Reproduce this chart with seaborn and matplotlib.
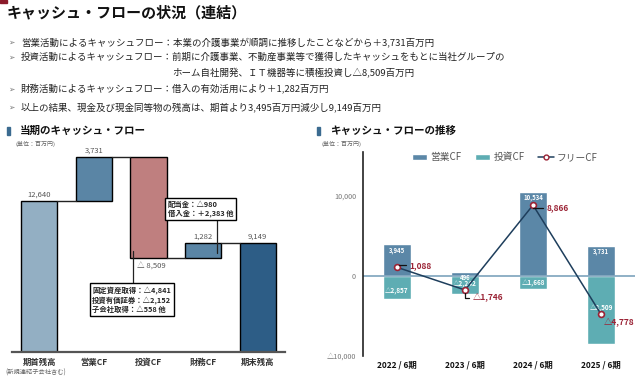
import matplotlib
matplotlib.use('Agg')
import matplotlib.pyplot as plt
import seaborn as sns
import pandas as pd
from matplotlib.patches import Rectangle, Patch
from matplotlib.lines import Line2D

# ---------------- data ----------------
wf_categories = ['期首残高', '営業CF', '投資CF', '財務CF', '期末残高']
wf_values = [12640, 3731, -8509, 1282, 9149]
wf_labels = ['12,640', '3,731', '△ 8,509', '1,282', '9,149']

years = ['2022 / 6期', '2023 / 6期', '2024 / 6期', '2025 / 6期']
operating_cf = [3945, 496, 10534, 3731]
investing_cf = [-2857, -2242, -1668, -8509]
free_cf = [1088, -1746, 8866, -4778]

y_ticks = [-10000, 0, 10000]
y_ticklabels = ['△10,000', '0', '10,000']

bullets = [
    '営業活動によるキャッシュフロー：本業の介護事業が順調に推移したことなどから＋3,731百万円',
    '投資活動によるキャッシュフロー：前期に介護事業、不動産事業等で獲得したキャッシュをもとに当社グループの',
    '財務活動によるキャッシュフロー：借入の有効活用により＋1,282百万円',
    '以上の結果、現金及び現金同等物の残高は、期首より3,495百万円減少し9,149百万円',
]
bullet_cont = 'ホーム自社開発、ＩＴ機器等に積極投資し△8,509百万円'
box_fin = '配当金：△980\n借入金：＋2,383 他'
box_inv = '固定資産取得：△4,841\n投資有価証券：△2,152\n子会社取得：△558 他'

# ---------------- style ----------------
sns.set_style('white')
plt.rcParams['font.family'] = ['Noto Sans CJK JP', 'DejaVu Sans']

W, H = 635, 376
fig = plt.figure(figsize=(W / 100, H / 100), dpi=100)

def fx(px):
    return px / W

def fy(py):
    return 1 - py / H

def ftext(px, py, s, **kw):
    fig.text(fx(px), fy(py), s, **kw)

def fmt(v):
    return ('△' if v < 0 else '') + f'{abs(v):,}'

# top-left red mark
fig.patches.append(Rectangle((0, fy(3)), fx(7), 3 / H, transform=fig.transFigure,
                             color='#8B1A2B', zorder=5))

# title
ftext(7, 12, 'キャッシュ・フローの状況（連結）', fontsize=10.8, fontweight='bold',
      color='#111111', va='center', ha='left')

# bullets
bullet_y = [42, 57, 89, 107]
for y, s in zip(bullet_y, bullets):
    ftext(8, y, '➢', fontsize=5.5, color='#777777', va='center', ha='left',
          family=['DejaVu Sans'])
    ftext(21, y, s, fontsize=6.8, color='#222222', va='center', ha='left')
ftext(172, 73, bullet_cont, fontsize=6.8, color='#222222', va='center', ha='left')

# section headers
for px, title in [(7, '当期のキャッシュ・フロー'), (317, 'キャッシュ・フローの推移')]:
    fig.patches.append(Rectangle((fx(px), fy(135)), 3 / W, 8 / H,
                                 transform=fig.transFigure, color='#3B6B90'))
    ftext(px + 13, 131, title, fontsize=7.6, fontweight='bold', color='#111111',
          va='center', ha='left')
ftext(15, 144, '(単位：百万円)', fontsize=4.3, color='#666666', va='center')
ftext(322, 144, '(単位：百万円)', fontsize=4.3, color='#666666', va='center')
ftext(5, 373, '(新規連結子会社含む)', fontsize=4.5, color='#666666', va='center')

# ---------------- left: waterfall ----------------
ax1 = fig.add_axes([fx(12), fy(352), 273 / W, 203 / H])
bw = 0.66
lows, highs, levels = [], [], []
cum = 0
for i, v in enumerate(wf_values):
    if i == 0 or i == len(wf_values) - 1:
        lo, hi = 0, v
        cum = v
    else:
        lo, hi = min(cum, cum + v), max(cum, cum + v)
        cum = cum + v
    lows.append(lo)
    highs.append(hi)
    levels.append(cum)

wf_colors = ['#93AFC3', '#5A85A5', '#BF7F7F', '#5A85A5', '#2D5D86']
df_wf = pd.DataFrame({'cat': wf_categories, 'top': highs})
sns.barplot(data=df_wf, x='cat', y='top', hue='cat', palette=wf_colors,
            width=bw, saturation=1, edgecolor='black', linewidth=1.0,
            legend=False, ax=ax1)
bars = [p for p in ax1.patches if isinstance(p, Rectangle)]
for p, lo, hi in zip(bars, lows, highs):
    p.set_y(lo)
    p.set_height(hi - lo)

for i in range(len(wf_values) - 1):
    ax1.plot([i + bw / 2, i + 1 - bw / 2], [levels[i], levels[i]],
             color='#222222', lw=1.0, zorder=1)

for i, (lab, lo, hi) in enumerate(zip(wf_labels, lows, highs)):
    if wf_values[i] < 0:
        ax1.annotate(lab, (i, lo), xytext=(2, -3), textcoords='offset points',
                     ha='center', va='top', fontsize=5.5, color='#555555')
    else:
        ax1.annotate(lab, (i, hi), xytext=(0, 1.5), textcoords='offset points',
                     ha='center', va='bottom', fontsize=5.5, color='#555555')

# annotation boxes
ax1.plot([3.25, 3.25], [8300, 11300], color='#222222', lw=0.9, zorder=3)
ax1.text(2.35, 12000, box_fin, fontsize=5.3, fontweight='bold', ha='left',
         va='center', linespacing=1.35, zorder=4,
         bbox=dict(boxstyle='square,pad=0.35', fc='white', ec='black', lw=1.0))
ax1.plot([1.72, 1.72], [5700, 8450], color='#222222', lw=0.9, zorder=3)
ax1.text(0.97, 4400, box_inv, fontsize=5.3, fontweight='bold', ha='left',
         va='center', linespacing=1.3, zorder=4,
         bbox=dict(boxstyle='square,pad=0.35', fc='white', ec='black', lw=1.0))

ax1.set_xlim(-0.5, len(wf_values) - 0.5)
ax1.set_ylim(0, 17000)
ax1.set_xlabel('')
ax1.set_ylabel('')
ax1.set_yticks([])
ax1.tick_params(axis='x', length=0, pad=4, labelsize=6, labelcolor='#333333')
for t in ax1.get_xticklabels():
    t.set_fontweight('bold')
for s in ['top', 'left', 'right']:
    ax1.spines[s].set_visible(False)
ax1.spines['bottom'].set_color('#555555')
ax1.spines['bottom'].set_linewidth(1.6)
ax1.patch.set_alpha(0)

# ---------------- right: trend ----------------
ax2 = fig.add_axes([fx(363), fy(356), 272 / W, 204 / H])
op_color = '#5B87A7'
inv_color = '#5EADB3'
line_color = '#1E3E5C'
red = '#9B2335'

sns.barplot(x=years, y=operating_cf, color=op_color, width=0.4, saturation=1,
            ax=ax2, zorder=2)
sns.barplot(x=years, y=investing_cf, color=inv_color, width=0.4, saturation=1,
            ax=ax2, zorder=2)
ax2.axhline(0, color='#7DA3BC', lw=1.2, zorder=2.5)
xpos = list(range(len(years)))
sns.lineplot(x=xpos, y=free_cf, ax=ax2, color=line_color, lw=1.1, marker='o',
             markersize=4.2, markerfacecolor='white', markeredgecolor=red,
             markeredgewidth=1.2, zorder=4)

for i, v in enumerate(operating_cf):
    ax2.annotate(fmt(v), (i, v), xytext=(0, -1.5), textcoords='offset points',
                 ha='center', va='top', fontsize=4.3, fontweight='bold',
                 color='white', zorder=3)
inv_label_y = [-1900, -1000, -900, -4000]
for i, (v, ly) in enumerate(zip(investing_cf, inv_label_y)):
    ax2.text(i, ly, fmt(v), ha='center', va='center', fontsize=4.6,
             fontweight='bold', color='white', zorder=3)

fcf_offsets = [(24, 2), (23, -8), (25, -3), (18, -8)]
for i, (v, off) in enumerate(zip(free_cf, fcf_offsets)):
    ax2.annotate(fmt(v), (i, v), xytext=off, textcoords='offset pixels',
                 ha='center', va='center', fontsize=6.0, fontweight='bold',
                 color=red, zorder=5,
                 arrowprops=dict(arrowstyle='-', color='#111111', lw=0.9,
                                 shrinkA=0.5, shrinkB=2,
                                 connectionstyle='angle,angleA=0,angleB=90,rad=0',
                                 relpos=(0, 0.5)))

ax2.set_xlim(-0.5, len(years) - 0.5)
ax2.set_ylim(-10000, 15500)
ax2.set_yticks(y_ticks)
ax2.set_yticklabels(y_ticklabels)
ax2.tick_params(axis='y', length=0, pad=5, labelsize=5.2, labelcolor='#777777')
ax2.tick_params(axis='x', length=0, pad=3, labelsize=6, labelcolor='#111111')
for t in ax2.get_xticklabels():
    t.set_fontweight('bold')
for s in ['top', 'bottom', 'right']:
    ax2.spines[s].set_visible(False)
ax2.spines['left'].set_color('#222222')
ax2.spines['left'].set_linewidth(1.2)
ax2.patch.set_alpha(0)

handles = [
    Patch(facecolor=op_color, label='営業CF'),
    Patch(facecolor=inv_color, label='投資CF'),
    Line2D([0], [0], color=line_color, lw=1.1, marker='o', markersize=3.5,
           markerfacecolor='white', markeredgecolor=red, label='フリーCF'),
]
leg = ax2.legend(handles=handles, loc='center', bbox_to_anchor=(0.52, 0.975),
                 ncol=3, frameon=False, fontsize=7, handlelength=1.6,
                 handleheight=0.55, handletextpad=0.3, columnspacing=1.4,
                 labelcolor='#555555')

fig.savefig('out.png', dpi=100)
